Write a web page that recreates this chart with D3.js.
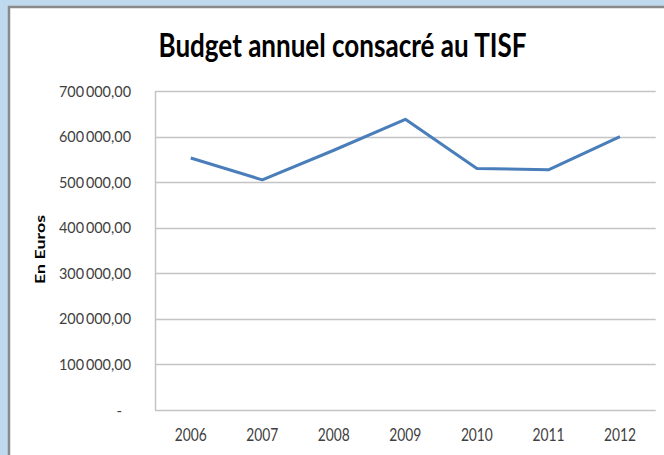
<!DOCTYPE html>
<html>
<head>
<meta charset="utf-8">
<script src="https://cdn.jsdelivr.net/npm/d3@7"></script>
<style>
  html, body { margin: 0; padding: 0; background: #bfdaef; }
  svg { display: block; }
  text { font-family: Lato, "Open Sans", sans-serif; }
</style>
</head>
<body>
<script>
// data
var years = ["2006", "2007", "2008", "2009", "2010", "2011", "2012"];
var budget = [553000, 505000, 570000, 638000, 530000, 527000, 600000];
var yTicks = [0, 100000, 200000, 300000, 400000, 500000, 600000, 700000];

var W = 664, H = 455;
var plot = {left: 155, right: 655.7, top: 91, bottom: 410};

var svg = d3.select("body").append("svg")
  .attr("width", W)
  .attr("height", H);

// chart frame: blue surround, grey edge on top and left, white chart area
svg.append("rect")
  .attr("x", 0).attr("y", 0).attr("width", W).attr("height", H)
  .attr("fill", "#bfdaef");
svg.append("rect")
  .attr("x", 9).attr("y", 7).attr("width", W - 9).attr("height", H - 7)
  .attr("fill", "#ffffff");
svg.append("line")
  .attr("x1", 8).attr("x2", W).attr("y1", 7).attr("y2", 7)
  .attr("stroke", "#8a8a8a").attr("stroke-width", 2.5);
svg.append("line")
  .attr("x1", 9).attr("x2", 9).attr("y1", 6).attr("y2", H)
  .attr("stroke", "#8a8a8a").attr("stroke-width", 2.5);

var x = d3.scalePoint()
  .domain(years)
  .range([plot.left, plot.right])
  .padding(0.5);

var y = d3.scaleLinear()
  .domain([0, 700000])
  .range([plot.bottom, plot.top]);

var fr = d3.formatLocale({decimal: ",", thousands: "\u2009", grouping: [3], currency: ["", " €"]});
var fmt = fr.format(",.2f");

// horizontal gridlines (the 0 one is the x axis)
svg.append("g").selectAll("line")
  .data(yTicks)
  .enter().append("line")
  .attr("x1", plot.left)
  .attr("x2", plot.right)
  .attr("y1", function(d) { return Math.round(y(d)) + 0.5; })
  .attr("y2", function(d) { return Math.round(y(d)) + 0.5; })
  .attr("stroke", "#c4c4c4")
  .attr("stroke-width", 1.5);

// vertical axis line
svg.append("line")
  .attr("x1", plot.left + 0.5).attr("x2", plot.left + 0.5)
  .attr("y1", y(700000)).attr("y2", y(0))
  .attr("stroke", "#c4c4c4")
  .attr("stroke-width", 1.5);

// y tick labels
svg.append("g").selectAll("text")
  .data(yTicks)
  .enter().append("text")
  .attr("x", 131)
  .attr("y", function(d) { return y(d) + 5.5; })
  .attr("text-anchor", "end")
  .attr("fill", "#404040")
  .style("font-size", "15px")
  .each(function(d) {
    var t = d3.select(this);
    if (d === 0) {
      t.text("-").attr("x", 122);
    } else {
      t.text(fmt(d)).attr("textLength", 72).attr("lengthAdjust", "spacingAndGlyphs");
    }
  });

// x tick labels
svg.append("g").selectAll("text")
  .data(years)
  .enter().append("text")
  .attr("x", function(d) { return x(d); })
  .attr("y", 440.5)
  .attr("text-anchor", "middle")
  .attr("fill", "#404040")
  .style("font-size", "17px")
  .attr("textLength", 32)
  .attr("lengthAdjust", "spacingAndGlyphs")
  .text(function(d) { return d; });

// the series line
var line = d3.line()
  .x(function(d, i) { return x(years[i]); })
  .y(function(d) { return y(d); });

svg.append("path")
  .datum(budget)
  .attr("d", line)
  .attr("fill", "none")
  .attr("stroke", "#4a7ebb")
  .attr("stroke-width", 3)
  .attr("stroke-linejoin", "round");

// title
svg.append("text")
  .attr("x", 342.5)
  .attr("y", 56.5)
  .attr("text-anchor", "middle")
  .attr("fill", "#000")
  .style("font-size", "33px")
  .style("font-weight", "bold")
  .attr("textLength", 368)
  .attr("lengthAdjust", "spacingAndGlyphs")
  .text("Budget annuel consacré au TISF");

// y axis title
svg.append("text")
  .attr("transform", "translate(45,249.5) rotate(-90)")
  .attr("text-anchor", "middle")
  .attr("fill", "#000")
  .style("font-size", "14px")
  .style("font-weight", "bold")
  .attr("textLength", 69)
  .attr("lengthAdjust", "spacingAndGlyphs")
  .text("En Euros");
</script>
</body>
</html>
